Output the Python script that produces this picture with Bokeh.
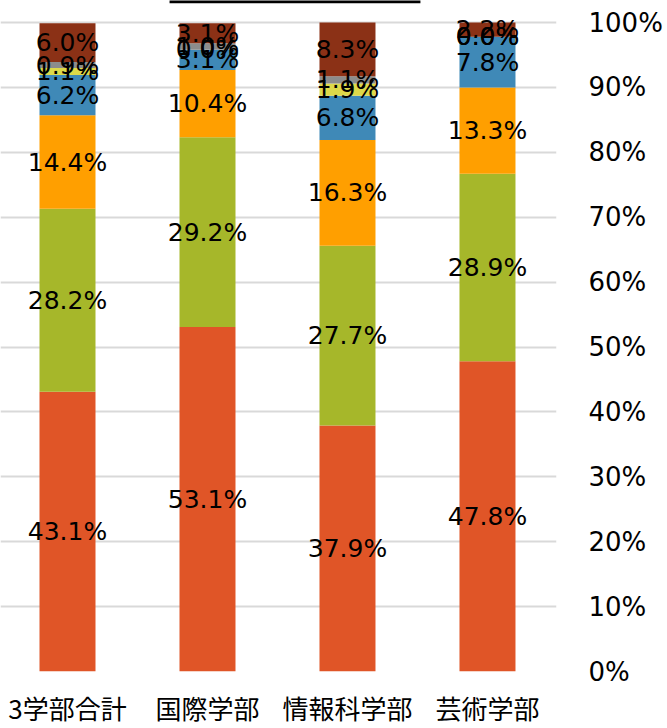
from bokeh.plotting import figure
from bokeh.models import ColumnDataSource, FixedTicker, CustomJSTickFormatter, Range1d, BoxAnnotation
from bokeh.core.properties import value
from bokeh.embed import file_html
from bokeh.resources import INLINE

categories = ["3学部合計", "国際学部", "情報科学部", "芸術学部"]
series_names = ["s1", "s2", "s3", "s4", "s5", "s6", "s7"]
s1 = [43.1, 53.1, 37.9, 47.8]
s2 = [28.2, 29.2, 27.7, 28.9]
s3 = [14.4, 10.4, 16.3, 13.3]
s4 = [6.2, 3.1, 6.8, 7.8]
s5 = [1.1, 0.0, 1.9, 0.0]
s6 = [0.9, 1.0, 1.1, 0.0]
s7 = [6.0, 3.1, 8.3, 2.2]
colors = ["#E05527", "#A6B72A", "#FF9F00", "#3F89B7", "#DDD94A", "#8C8C8C", "#8B3116"]
y_ticks = [0, 10, 20, 30, 40, 50, 60, 70, 80, 90, 100]

series = [s1, s2, s3, s4, s5, s6, s7]
xs = list(range(len(categories)))
data = {"x": xs}
for name, vals in zip(series_names, series):
    data[name] = vals
src = ColumnDataSource(data)

p = figure(width=667, height=728, output_backend="svg", toolbar_location=None,
           x_range=Range1d(-0.4786, 3.493), y_range=Range1d(0, 103.39),
           y_axis_location="right", min_border_left=0, min_border_top=0,
           min_border_right=111, min_border_bottom=57)
p.outline_line_color = None
p.background_fill_color = "white"
p.border_fill_color = "white"

p.vbar_stack(series_names, x="x", width=0.4, color=colors, source=src, line_color=None)

# labels
lx, ly, lt = [], [], []
for i in xs:
    base = 0.0
    for vals in series:
        v = vals[i]
        lx.append(i)
        ly.append(base + v / 2.0)
        lt.append(f"{v:.1f}%")
        base += v
lsrc = ColumnDataSource(dict(x=lx, y=ly, t=lt))
p.text(x="x", y="y", text="t", source=lsrc, text_align="center", text_baseline="middle",
       text_font=value("DejaVu Sans"), text_font_size="25px", text_color="#000000")

# remnant of legend frame at the top edge
p.add_layout(BoxAnnotation(left=0.729, right=2.521, bottom=102.98, top=103.6,
                           fill_color="#000000", fill_alpha=1.0, line_color=None))

# axes
p.xaxis.ticker = FixedTicker(ticks=xs)
p.xaxis.major_label_overrides = {i: c for i, c in enumerate(categories)}
p.xaxis.major_label_text_font = "Noto Sans CJK JP"
p.xaxis.major_label_text_font_size = "26px"
p.xaxis.major_label_text_color = "#000000"
p.xaxis.axis_line_color = None
p.xaxis.major_tick_line_color = None
p.xaxis.minor_tick_line_color = None
p.xaxis.major_tick_out = 0
p.xaxis.major_tick_in = 0
p.xaxis.major_label_standoff = 17

p.yaxis.ticker = FixedTicker(ticks=y_ticks)
p.yaxis.formatter = CustomJSTickFormatter(code="return tick + '%';")
p.yaxis.major_label_text_font = "DejaVu Sans"
p.yaxis.major_label_text_font_size = "26px"
p.yaxis.major_label_text_color = "#000000"
p.yaxis.axis_line_color = None
p.yaxis.major_tick_line_color = None
p.yaxis.minor_tick_line_color = None
p.yaxis.major_tick_out = 0
p.yaxis.major_tick_in = 0
p.yaxis.major_label_standoff = 32
p.yaxis.major_label_text_align = "left"

p.xgrid.grid_line_color = None
p.ygrid.ticker = FixedTicker(ticks=y_ticks)
p.ygrid.grid_line_color = "#D9D9D9"
p.ygrid.grid_line_width = 2

open("out.html", "w").write(file_html(p, INLINE))
